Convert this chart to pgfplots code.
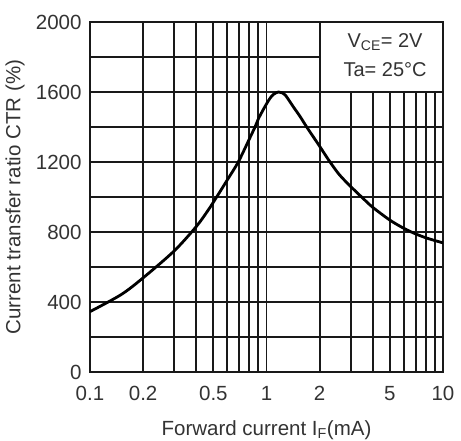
\documentclass[border=0pt]{standalone}
\usepackage{fontspec}
\setmainfont{Liberation Sans}
\usepackage{pgfplots}
\pgfplotsset{compat=1.18}
\begin{document}
\begin{tikzpicture}
\begin{axis}[
 scale only axis,width=353pt,height=350pt,
 xmode=log,xmin=0.1,xmax=10,ymin=0,ymax=2000,
 xtick={0.1,0.2,0.5,1,2,5,10},xticklabels={0.1,0.2,0.5,1,2,5,10},
 minor xtick={0.3,0.4,0.6,0.7,0.8,0.9,3,4,6,7,8,9},
 ytick={0,400,800,1200,1600,2000},yticklabels={0,400,800,1200,1600,2000},
 minor ytick={200,600,1000,1400,1800},
 /pgf/number format/assume math mode=true,
 grid=both,
 major grid style={black!90,line width=1.9pt},
 minor grid style={black!90,line width=1.9pt},
 axis line style={black!90,line width=1.9pt},
 major tick length=0pt,minor tick length=0pt,
 tick label style={font=\fontsize{20.5}{20.5}\selectfont,text=black!80},
 x tick label style={anchor=north,yshift=-11pt},
 y tick label style={anchor=east,xshift=-5pt},
 xlabel={Forward current I\textsubscript{F}(mA)},
 ylabel={Current transfer ratio CTR (\%)},
 label style={font=\fontsize{20.5}{20.5}\selectfont,text=black!80},
 x label style={at={(axis description cs:0.5,-0.18)},anchor=base},
 y label style={at={(axis description cs:-0.2125,0.5)},anchor=center},
]
\addplot[line width=2.8pt,smooth,black] table {
0.1 345
0.15 442
0.2 538
0.3 692
0.4 831
0.468 926
0.522 1000
0.6 1098
0.692 1200
0.8 1332
0.861 1400
0.9 1447
0.95 1492
1.0 1532
1.05 1566
1.1 1588
1.17 1600
1.23 1595
1.28 1582
1.42 1515
1.55 1460
1.69 1400
2.0 1290
2.29 1200
2.6 1125
3.0 1060
3.5 995
4.0 941
5.0 868
6.0 821
7.0 789
8.0 767
9.0 751
10 738
};
\draw[fill=white,draw=black!90,line width=1.9pt] (axis cs:2,1600) rectangle (axis cs:10,2000);
\node[font=\fontsize{20}{20}\selectfont,text=black!80] at (rel axis cs:0.836,0.943) {V\textsubscript{CE}= 2V};
\node[font=\fontsize{20}{20}\selectfont,text=black!80] at (rel axis cs:0.836,0.863) {Ta= 25°C};
\end{axis}
\pgfresetboundingbox
\useasboundingbox ([shift={(-90pt,-68pt)}]current axis.south west) rectangle ([shift={(18pt,22pt)}]current axis.north east);
\end{tikzpicture}
\end{document}
